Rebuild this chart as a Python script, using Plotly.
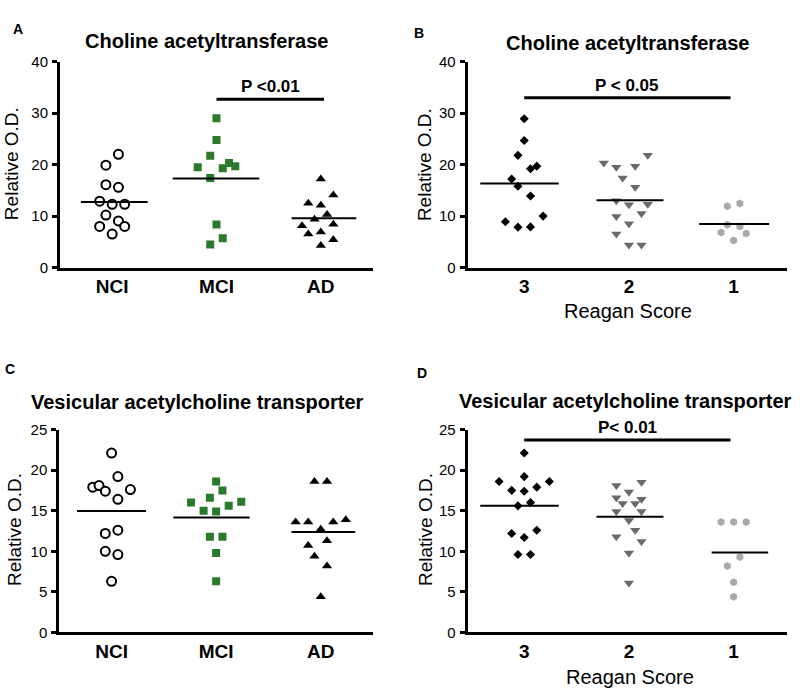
import numpy as np
import plotly.graph_objects as go

# ---------------- DATA ----------------
group_labels = ["NCI", "MCI", "AD"]
reagan_labels = ["3", "2", "1"]

# Panel A: Choline acetyltransferase by diagnosis
chat_nci = [22.0, 19.9, 16.1, 15.6, 12.9, 12.3, 12.3, 10.2, 9.05, 8.0, 8.0, 6.5]
chat_mci = [29.0, 24.8, 21.7, 19.5, 19.3, 20.3, 19.7, 17.4, 8.35, 5.7, 4.5]
chat_ad = [17.2, 14.1, 12.5, 12.1, 10.3, 9.4, 8.1, 8.4, 6.5, 6.9, 5.4, 4.3]

# Panel B: Choline acetyltransferase by Reagan score
chat_r3 = [28.9, 24.7, 21.8, 19.2, 19.7, 17.2, 15.8, 13.9, 8.9, 10.0, 7.85, 7.9]
chat_r2 = [20.3, 19.5, 19.7, 21.8, 17.4, 15.6, 13.0, 12.2, 12.3, 9.9, 10.5, 8.5, 6.5, 4.4, 4.4]
chat_r1 = [11.9, 12.45, 8.3, 8.0, 6.8, 6.6, 5.25]

# Panel C: Vesicular acetylcholine transporter by diagnosis
vacht_nci = [22.1, 19.2, 17.9, 18.1, 17.4, 17.6, 16.4, 12.2, 12.6, 10.0, 9.6, 6.3]
vacht_mci = [18.6, 17.5, 16.6, 16.0, 16.1, 15.6, 15.0, 14.9, 11.8, 11.8, 9.8, 6.3]
vacht_ad = [18.6, 18.6, 13.6, 13.6, 13.6, 13.9, 12.7, 11.3, 10.7, 9.4, 8.2, 4.4]

# Panel D: Vesicular acetylcholine transporter by Reagan score
vacht_r3 = [22.1, 18.6, 18.6, 19.2, 17.5, 17.4, 17.9, 16.0, 15.6, 12.2, 12.6, 11.7, 9.6, 9.6]
vacht_r2 = [18.1, 18.5, 17.3, 16.6, 16.4, 15.9, 15.9, 14.9, 14.9, 13.8, 12.6, 11.8, 11.2, 9.8, 6.1]
vacht_r1 = [13.6, 13.6, 13.6, 9.3, 8.2, 6.2, 4.4]

p_texts = ["P <0.01", "P < 0.05", "P< 0.01"]

# ---------------- LAYOUT / STYLE (positions, not data) ----------------
# horizontal scatter slots (multiples of the jitter step)
slot_a = [[1, -1, -1, 1, -2, 0, 2, -1, 1, -2, 2, 0],
          [0, 0, -1, -3, 1, 2, 3, -1, 0, 1, -1],
          [0, 2, -2, 0, 1, -1, -3, 2, -2, 0, 2, 0]]
slot_b = [[0, 0, -1, 1, 2, -2, -1, 1, -3, 3, -1, 1],
          [-4, -2, 1, 3, -1, 1, -2, 0, 3, -2, 2, 0, -2, 0, 2],
          [-1, 1, -1, 1, -2, 2, 0]]
slot_c = [[0, 1, -3, -2, -1, 3, 1, -1, 1, -1, 1, 0],
          [0, 1, -1, -4, 4, 2, -2, 0, -1, 1, 0, 0],
          [-1, 1, -4, -2, 2, 4, 0, 1, -2, -1, 1, 0]]
slot_d = [[0, -4, 4, 0, -2, 0, 2, 1, -1, -2, 2, 0, -1, 1],
          [-2, 2, 0, -2, 2, -1, 1, -2, 2, 0, 1, -2, 2, 0, 0],
          [-2, 0, 2, 1, -1, 0, 0]]
STEP = 0.06

mean_ext = {
    "A": [(-0.30, 0.34), (-0.42, 0.41), (-0.28, 0.34)],
    "B": [(-0.42, 0.33), (-0.31, 0.33), (-0.33, 0.34)],
    "C": [(-0.33, 0.33), (-0.41, 0.32), (-0.28, 0.33)],
    "D": [(-0.42, 0.33), (-0.31, 0.33), (-0.21, 0.33)],
}

GREEN = "#2b7a2b"
DGREY = "#6a6a6a"
LGREY = "#a9a9a9"
styles_diag = [
    dict(symbol="circle", size=9, color="white", line=dict(color="black", width=2)),
    dict(symbol="square", size=8, color=GREEN, line=dict(width=0)),
    dict(symbol="triangle-up", size=9, color="black", line=dict(width=0)),
]
styles_reag = [
    dict(symbol="diamond", size=7, color="black", line=dict(width=0)),
    dict(symbol="triangle-down", size=9, color=DGREY, line=dict(width=0)),
    dict(symbol="hexagon", size=8, color=LGREY, line=dict(width=0)),
]

FONT = "Arial, Liberation Sans, sans-serif"
W, H = 800, 699


def px(x, y):
    return x / W, 1 - y / H


panels = {
    "A": dict(ax="", data=[chat_nci, chat_mci, chat_ad], slots=slot_a, styles=styles_diag,
              labels=group_labels, xdom=(60, 373), ydom=(265, 54), yr=40, xr=(-0.5, 2.5),
              dtick=10),
    "B": dict(ax="2", data=[chat_r3, chat_r2, chat_r1], slots=slot_b, styles=styles_reag,
              labels=reagan_labels, xdom=(467.7, 787), ydom=(265, 54), yr=40, xr=(-0.54, 2.51),
              dtick=10),
    "C": dict(ax="3", data=[vacht_nci, vacht_mci, vacht_ad], slots=slot_c, styles=styles_diag,
              labels=group_labels, xdom=(59.3, 373), ydom=(639, 431), yr=25, xr=(-0.5, 2.5),
              dtick=5),
    "D": dict(ax="4", data=[vacht_r3, vacht_r2, vacht_r1], slots=slot_d, styles=styles_reag,
              labels=reagan_labels, xdom=(467.7, 787), ydom=(639, 431), yr=25, xr=(-0.54, 2.51),
              dtick=5),
}

fig = go.Figure()
layout = {}
for key, p in panels.items():
    xa = "x" + p["ax"]
    ya = "y" + p["ax"]
    for gi, (vals, slots, st) in enumerate(zip(p["data"], p["slots"], p["styles"])):
        xs = [gi + s * STEP for s in slots]
        fig.add_trace(go.Scatter(x=xs, y=vals, mode="markers", marker=st, xaxis=xa, yaxis=ya,
                                 showlegend=False, hoverinfo="y"))
        m = float(np.mean(vals))
        l, r = mean_ext[key][gi]
        fig.add_trace(go.Scatter(x=[gi + l, gi + r], y=[m, m], mode="lines",
                                 line=dict(color="black", width=2), xaxis=xa, yaxis=ya,
                                 showlegend=False, hoverinfo="skip"))
    x0, _ = px(p["xdom"][0], 0)
    x1, _ = px(p["xdom"][1], 0)
    _, y0 = px(0, p["ydom"][0])
    _, y1 = px(0, p["ydom"][1])
    layout["xaxis" + p["ax"]] = dict(
        domain=[x0, x1], range=list(p["xr"]), anchor=ya, showline=True, linecolor="black",
        linewidth=3, showgrid=False, zeroline=False, ticks="", tickvals=[0, 1, 2],
        ticktext=p["labels"], tickfont=dict(family=FONT, size=19, color="black", weight="bold"),
        fixedrange=True, ticklabelstandoff=0)
    layout["yaxis" + p["ax"]] = dict(
        domain=[y0, y1], range=[0, p["yr"]], anchor=xa, showline=True, linecolor="black",
        linewidth=3, showgrid=False, zeroline=False, ticks="outside", ticklen=5, tickwidth=3,
        tickcolor="black", dtick=p["dtick"], tick0=0,
        tickfont=dict(family=FONT, size=15, color="black"), fixedrange=True,
        ticklabelstandoff=1)

fig.update_layout(**layout)

# significance bars
sig = [("", 1, 2.03, 32.7, p_texts[0]), ("2", 0, 1.97, 33.0, p_texts[1]), ("4", 0, 1.97, 23.7, p_texts[2])]
annotations = []
for ax, a, b, yv, txt in sig:
    fig.add_shape(type="line", xref="x" + ax, yref="y" + ax, x0=a, x1=b, y0=yv, y1=yv,
                  line=dict(color="black", width=3))
    annotations.append(dict(xref="x" + ax, yref="y" + ax, x=(a + b) / 2, y=yv, text=txt,
                            showarrow=False, yanchor="bottom", yshift=1,
                            font=dict(family=FONT, size=17, color="black", weight="bold")))


def ann_px(x, y, text, size, bold=False, angle=0, xanchor="center"):
    xp, yp = px(x, y)
    return dict(xref="paper", yref="paper", x=xp, y=yp, text=text, showarrow=False,
                xanchor=xanchor, yanchor="middle", textangle=angle,
                font=dict(family=FONT, size=size, color="black",
                          weight="bold" if bold else "normal"))


titles = [(206, 33, "Choline acetyltransferase"), (627, 35, "Choline acetyltransferase"),
          (197, 403, "Vesicular acetylcholine transporter"),
          (625, 402, "Vesicular acetylcholine transporter")]
for x, y, t in titles:
    annotations.append(ann_px(x, y, t, 20, bold=True))

for x, y, t in [(18, 21, "A"), (419, 25, "B"), (10, 369, "C"), (422, 373, "D")]:
    annotations.append(ann_px(x, y, t, 14, bold=True))

for x, y in [(11, 159), (424, 160), (14, 534), (425, 534)]:
    annotations.append(ann_px(x, y, "Relative O.D.", 19, angle=-90))

for x, y in [(628, 310), (630, 685)]:
    annotations.append(ann_px(x, y, "Reagan Score", 20))

fig.update_layout(width=W, height=H, margin=dict(l=0, r=0, t=0, b=0),
                  paper_bgcolor="white", plot_bgcolor="white", annotations=annotations,
                  showlegend=False)

fig.write_html("out.html", config={"displayModeBar": False},
               post_script="document.body.style.margin='0px';document.body.style.overflow='hidden';")
